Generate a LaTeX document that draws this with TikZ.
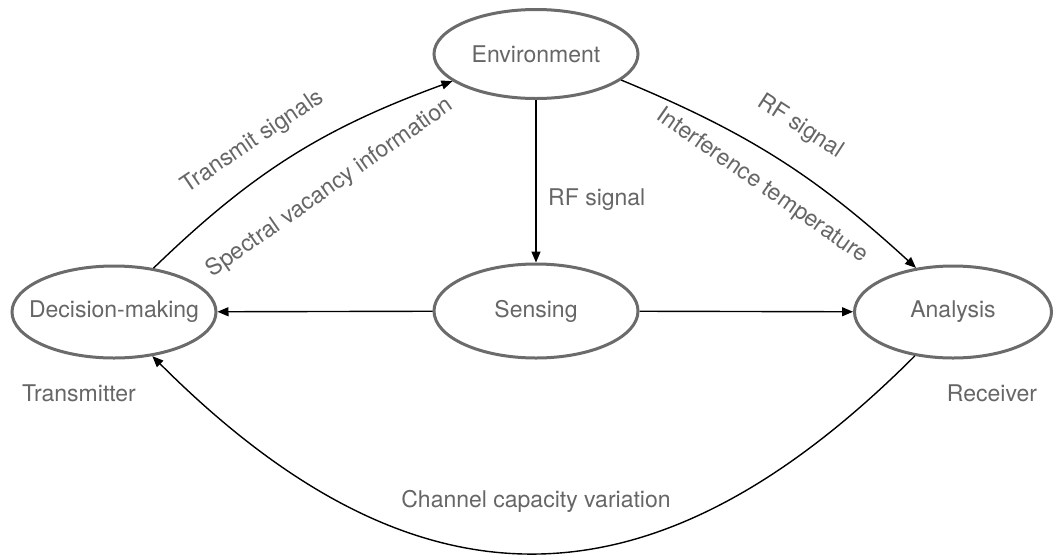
\documentclass[tikz,border=0pt]{standalone}
\usepackage{fontspec}
\setmainfont{TeX Gyre Heros}
\usetikzlibrary{arrows.meta,shapes.geometric}
\definecolor{edgegray}{HTML}{6B6B6B}
\definecolor{textgray}{HTML}{666666}
\begin{document}
\begin{tikzpicture}[x=1pt,y=-1pt,
  font=\fontsize{23}{27}\selectfont,
  state/.style={ellipse, draw=edgegray, line width=3pt, text=textgray,
    minimum width=204pt, minimum height=92pt, inner xsep=-16pt, inner ysep=0pt},
  flow/.style={line width=1.4pt, -{Triangle[length=11pt,width=9pt]}},
  lbl/.style={text=textgray, inner sep=0pt}]
\useasboundingbox[fill=white] (0,0) rectangle (1055,558);

% cycle stages
\node[state, minimum height=89pt] (env) at (536,54) {Environment};
\node[state] (dec) at (114,312) {Decision-making};
\node[state, minimum height=94pt] (sen) at (536,311) {Sensing};
\node[state, minimum width=197pt] (ana) at (953,312) {Analysis};

% connectors
\draw[flow] (env) -- (sen);
\draw[flow] (sen) -- (dec);
\draw[flow] (sen) -- (ana);
\draw[flow] (dec.48) to[bend left=12] (env.198);
\draw[flow] (env.343) to[bend left=10] (ana.130);
\draw[flow] (ana.229) to[out=-135,in=-45,looseness=1.25] (dec.311);

% labels
\node[lbl, rotate=34] (ltx) at (253,142) {Transmit signals};
\node[lbl, rotate=35] (lsv) at (330,188) {Spectral vacancy information};
\node[lbl, rotate=-33] (lrf) at (800,127) {RF signal};
\node[lbl, rotate=-35] (lit) at (762,186) {Interference temperature};
\node[lbl, anchor=base west] (lrfv) at (548,205) {RF signal};
\node[lbl, anchor=base] (ltr) at (79,401) {Transmitter};
\node[lbl, anchor=base] (lre) at (992,401) {Receiver};
\node[lbl, anchor=base] (lcc) at (536,507) {Channel capacity variation};
\end{tikzpicture}
\end{document}
